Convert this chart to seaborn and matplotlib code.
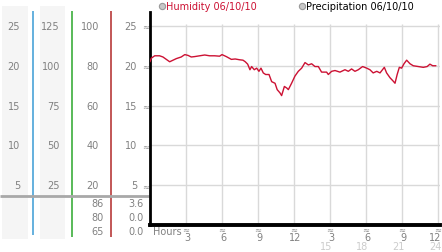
import matplotlib
matplotlib.use("Agg")
import matplotlib.pyplot as plt
import seaborn as sns
import pandas as pd
from matplotlib.transforms import blended_transform_factory
from matplotlib.patches import Rectangle

# ---- data ----
hours = [0.0, 0.11, 0.39, 0.8, 1.08, 1.36, 1.64, 1.92, 2.2, 2.6, 2.9, 3.17, 3.44, 3.72,
         4.14, 4.56, 4.97, 5.39, 5.8, 6.0, 6.36, 6.78, 7.1, 7.47, 7.75, 7.94, 8.14, 8.33,
         8.47, 8.69, 8.89, 9.08, 9.25, 9.44, 9.64, 9.92, 10.14, 10.42, 10.6, 10.83, 10.97,
         11.2, 11.4, 11.53, 11.8, 12.08, 12.36, 12.64, 12.92, 13.2, 13.47, 13.75, 14.03,
         14.3, 14.72, 14.86, 15.14, 15.42, 15.83, 16.25, 16.53, 16.8, 17.08, 17.36, 17.72,
         18.06, 18.33, 18.6, 18.9, 19.17, 19.53, 19.72, 20.0, 20.28, 20.42, 20.6, 20.78,
         20.97, 21.17, 21.39, 21.67, 21.94, 22.36, 22.78, 23.1, 23.33, 23.56, 23.83]
humidity = [20.5, 20.95, 21.25, 21.25, 21.1, 20.8, 20.5, 20.7, 20.9, 21.1, 21.4, 21.3, 21.1,
             21.15, 21.25, 21.35, 21.25, 21.25, 21.2, 21.4, 21.15, 20.8, 20.85, 20.75, 20.7,
             20.5, 20.2, 19.5, 19.9, 19.5, 19.7, 19.3, 19.7, 19.1, 18.9, 18.9, 18.0, 17.8,
             17.0, 16.6, 16.25, 17.4, 17.2, 17.0, 17.8, 18.7, 19.3, 19.7, 20.4, 20.1, 20.25,
             19.9, 19.9, 19.2, 19.2, 18.9, 19.3, 19.4, 19.2, 19.5, 19.3, 19.6, 19.3, 19.5,
             19.9, 19.7, 19.5, 19.1, 19.3, 19.1, 19.8, 19.1, 18.5, 18.05, 17.8, 18.9, 19.8,
             19.7, 20.25, 20.7, 20.25, 20.0, 19.9, 19.8, 19.9, 20.2, 20.0, 20.0]

y_levels = [25, 20, 15, 10, 5]
scale_a = ["25", "20", "15", "10", "5"]
scale_b = ["125", "100", "75", "50", "25"]
scale_c = ["100", "80", "60", "40", "20"]
scale_d = ["25", "20", "15", "10", "5"]
stats_c = ["86", "80", "65"]
stats_d = ["3.6", "0.0", "0.0"]
x_ticks = [3, 6, 9, 12, 15, 18, 21, 24]
x_labels_top = ["3", "6", "9", "12", "3", "6", "9", "12"]
x_labels_24 = ["15", "18", "21", "24"]
legend_labels = ["Humidity 06/10/10", "Precipitation 06/10/10"]

df = pd.DataFrame({"hour": hours, "humidity": humidity})

sns.set_style("white")
plt.rcParams["font.family"] = ["DejaVu Sans"]

W, H = 442, 253
fig = plt.figure(figsize=(W / 100, H / 100), dpi=100)
fig.patch.set_facecolor("white")

deco = fig.add_axes([0, 0, 1, 1])
deco.set_xlim(0, W)
deco.set_ylim(H, 0)
deco.axis("off")
deco.set_zorder(0)

ax = fig.add_axes([150 / W, (H - 226) / H, 290 / W, 213 / H])
ax.set_zorder(1)
ax.patch.set_alpha(0)
ax.set_xlim(0, 24.17)
ax.set_ylim(0, 26.75)

grid_c = "#d9d9d9"
ax.hlines(y_levels, 0, 24.17, color=grid_c, lw=1, zorder=1)
ax.vlines(x_ticks, 0, 25.25, color=grid_c, lw=1, zorder=1)

sns.lineplot(data=df, x="hour", y="humidity", ax=ax, color="#cc1133", lw=1,
             sort=False, estimator=None, zorder=3)

ax.set_xticks([])
ax.set_yticks([])
ax.set_xlabel("")
ax.set_ylabel("")
for s in ["top", "right"]:
    ax.spines[s].set_visible(False)
ax.spines["left"].set_color("black")
ax.spines["left"].set_linewidth(2)
ax.spines["bottom"].set_color("black")
ax.spines["bottom"].set_linewidth(2.8)

# left panel decorations
deco.add_patch(Rectangle((2, 7), 26, 233, color="#f5f5f5", lw=0))
deco.add_patch(Rectangle((40, 7), 25, 233, color="#f5f5f5", lw=0))
deco.vlines(33, 12, 236, color="#4aa3d8", lw=1.2)
deco.vlines(72, 12, 238, color="#3cae3c", lw=1.2)
deco.vlines(111, 12, 238, color="#b83a3a", lw=1.2)
deco.hlines(197, 0, 149, color="#a8a8a8", lw=2)

ty = blended_transform_factory(deco.transData, ax.transData)
lab_c = "#808080"
mark_c = "#8c8c8c"
for labels, xr in [(scale_a, 20), (scale_b, 60), (scale_c, 99), (scale_d, 137)]:
    for v, t in zip(y_levels, labels):
        deco.text(xr, v, t, transform=ty, ha="right", va="center", fontsize=7, color=lab_c)
for v in y_levels:
    deco.text(146, v, "≈", transform=ty, ha="center", va="center", fontsize=6, color=mark_c)

for t, yy in zip(stats_c, [204, 218, 232]):
    deco.text(104, yy, t, ha="right", va="center", fontsize=7, color=lab_c)
for t, yy in zip(stats_d, [204, 218, 232]):
    deco.text(144, yy, t, ha="right", va="center", fontsize=7, color=lab_c)

# x tick labels
tx = blended_transform_factory(ax.transData, deco.transData)
for h, t in zip(x_ticks, x_labels_top):
    dx = -0.2 if h == 24 else 0.1
    deco.text(h, 230, "≈", transform=tx, ha="center", va="center", fontsize=6, color=mark_c)
    deco.text(h + dx, 238.5, t, transform=tx, ha="center", va="center", fontsize=7, color=lab_c)
for h, t in zip(x_ticks[4:], x_labels_24):
    dx = -0.2 if h == 24 else -0.3
    deco.text(h + dx, 247, t, transform=tx, ha="center", va="center", fontsize=7, color="#cccccc")
deco.text(153, 232, "Hours", ha="left", va="center", fontsize=7, color=lab_c)

# legend
deco.plot([162], [7], marker="o", ms=4.5, mfc="#c8c8c8", mec="#9a9a9a", mew=0.8)
deco.text(166, 7, legend_labels[0], ha="left", va="center", fontsize=7, color="#cc1133")
deco.plot([302], [7], marker="o", ms=4.5, mfc="#c8c8c8", mec="#9a9a9a", mew=0.8)
deco.text(306, 7, legend_labels[1], ha="left", va="center", fontsize=7, color="black")

fig.savefig("out.png", dpi=100, facecolor="white")
